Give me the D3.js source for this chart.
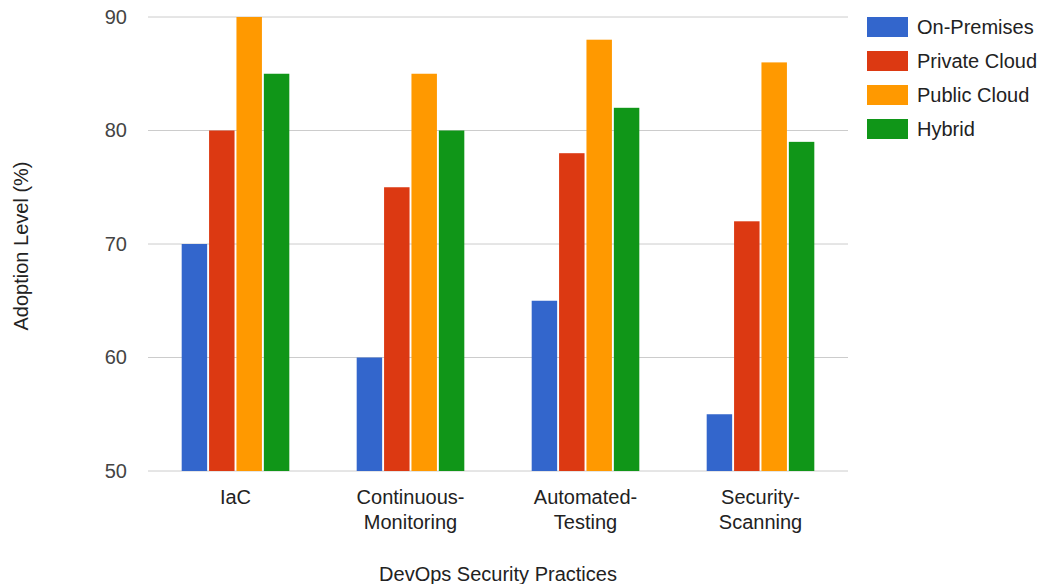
<!DOCTYPE html>
<html>
<head>
<meta charset="utf-8">
<script src="https://cdn.jsdelivr.net/npm/d3@7/dist/d3.min.js"></script>
<style>
  html, body { margin: 0; padding: 0; background: #fff; }
  svg { display: block; font-family: "Liberation Sans", Arial, sans-serif; }
</style>
</head>
<body>
<svg id="chart" width="1045" height="584"></svg>
<script>
// Adoption level of DevOps security practices by deployment model
const categories = ["IaC", "Continuous-Monitoring", "Automated-Testing", "Security-Scanning"];
const seriesNames = ["On-Premises", "Private Cloud", "Public Cloud", "Hybrid"];
const onPremises   = [70, 60, 65, 55];
const privateCloud = [80, 75, 78, 72];
const publicCloud  = [90, 85, 88, 86];
const hybrid       = [85, 80, 82, 79];
const yTicks = [50, 60, 70, 80, 90];
const colors = ["#3366cc", "#dc3912", "#ff9900", "#109618"];

const seriesValues = [onPremises, privateCloud, publicCloud, hybrid];
const FONT = 20;

const svg = d3.select("#chart");
const plot = { left: 148, right: 848, top: 17, bottom: 471 };

const x = d3.scaleBand().domain(categories).range([plot.left, plot.right]).padding(0);
const groupWidth = x.bandwidth() * 0.615;
const xInner = d3.scaleBand().domain(seriesNames).range([0, groupWidth]).paddingInner(0.07);
const y = d3.scaleLinear().domain([50, 90]).range([plot.bottom, plot.top]);

// Horizontal gridlines
svg.append("g")
  .selectAll("line")
  .data(yTicks)
  .join("line")
  .attr("x1", plot.left).attr("x2", plot.right)
  .attr("y1", d => y(d)).attr("y2", d => y(d))
  .attr("stroke", "#cccccc").attr("stroke-width", 1);

// Y tick labels
const yAxis = d3.axisLeft(y).tickValues(yTicks).tickSize(0).tickPadding(21);
const yg = svg.append("g").attr("transform", `translate(${plot.left},0)`).call(yAxis);
yg.select(".domain").remove();
yg.selectAll("text")
  .attr("font-size", FONT)
  .attr("fill", "#444")
  .attr("font-family", "Liberation Sans, Arial, sans-serif");

// Bars
const groups = svg.append("g")
  .selectAll("g")
  .data(categories)
  .join("g")
  .attr("transform", d => `translate(${x(d) + (x.bandwidth() - groupWidth) / 2},0)`);

groups.selectAll("rect")
  .data((c, i) => seriesNames.map((s, k) => ({ s, k, v: seriesValues[k][i] })))
  .join("rect")
  .attr("x", d => xInner(d.s))
  .attr("width", xInner.bandwidth())
  .attr("y", d => y(d.v))
  .attr("height", d => y(50) - y(d.v))
  .attr("fill", d => colors[d.k]);

// Category labels (split on the hyphen into two lines)
const catLabels = svg.append("g")
  .selectAll("text")
  .data(categories)
  .join("text")
  .attr("x", d => x(d) + x.bandwidth() / 2)
  .attr("text-anchor", "middle")
  .attr("font-size", FONT)
  .attr("fill", "#222");

catLabels.each(function (d) {
  const parts = d.includes("-") ? [d.split("-")[0] + "-", d.split("-")[1]] : [d];
  const t = d3.select(this);
  parts.forEach((p, i) => {
    t.append("tspan")
      .attr("x", x(d) + x.bandwidth() / 2)
      .attr("y", 504 + i * 25)
      .text(p);
  });
});

// Axis titles
svg.append("text")
  .attr("x", plot.left + (plot.right - plot.left) / 2)
  .attr("y", 581)
  .attr("text-anchor", "middle")
  .attr("font-size", FONT)
  .attr("fill", "#222")
  .text("DevOps Security Practices");

svg.append("text")
  .attr("transform", "translate(28,246) rotate(-90)")
  .attr("text-anchor", "middle")
  .attr("font-size", FONT)
  .attr("fill", "#222")
  .text("Adoption Level (%)");

// Legend
const legend = svg.append("g")
  .selectAll("g")
  .data(seriesNames)
  .join("g")
  .attr("transform", (d, i) => `translate(867,${17 + i * 34})`);

legend.append("rect")
  .attr("width", 41).attr("height", 20)
  .attr("fill", (d, i) => colors[i]);

legend.append("text")
  .attr("x", 50).attr("y", 17)
  .attr("font-size", FONT)
  .attr("fill", "#222")
  .text(d => d);
</script>
</body>
</html>
